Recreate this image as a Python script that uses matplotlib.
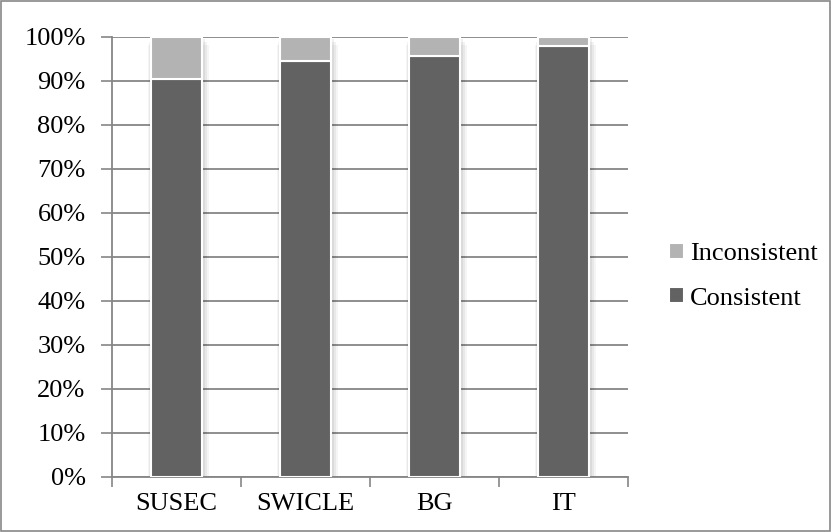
import numpy as np
import matplotlib.pyplot as plt
from matplotlib.patches import Rectangle

categories = ['SUSEC', 'SWICLE', 'BG', 'IT']
consistent = [90.3, 94.5, 95.5, 98.0]
inconsistent = [100 - v for v in consistent]

plt.rcParams['font.family'] = ['Liberation Serif', 'DejaVu Serif']

fig = plt.figure(figsize=(8.32, 5.32), dpi=100)
ax = fig.add_axes([0.1346, 0.1043, 0.6202, 0.8267])

x = np.arange(len(categories))
w = 0.40
dark = '#626262'
light = '#b3b3b3'
grid = '#868686'

# soft shadow behind bars
for xi in x:
    for k, a in enumerate([0.06, 0.05, 0.04]):
        d = 0.012 * (k + 1)
        ax.bar(xi + d * 0.5, 100, width=w + d * 2, bottom=-0.6 * (k + 1),
               color='black', alpha=a, zorder=2, linewidth=0)

ax.bar(x, consistent, width=w, color=dark, edgecolor='white', linewidth=1.5,
       label='Consistent', zorder=3)
ax.bar(x, inconsistent, width=w, bottom=consistent, color=light,
       edgecolor='white', linewidth=1.5, label='Inconsistent', zorder=3)

ax.set_xlim(-0.5, len(categories) - 0.5)
ax.set_ylim(0, 100)
ax.set_yticks(np.arange(0, 101, 10))
ax.set_yticklabels([f'{v}%' for v in range(0, 101, 10)], fontsize=19)
ax.set_xticks(x)
ax.set_xticklabels(categories, fontsize=19)
ax.tick_params(axis='x', length=0, pad=12)
ax.set_xticks(np.arange(-0.5, len(categories)), minor=True)
ax.tick_params(axis='x', which='minor', length=7, color=grid, width=1.2)
ax.tick_params(axis='y', length=8, color=grid, width=1.2, pad=11)

ax.yaxis.grid(True, color=grid, linewidth=1.3, zorder=1)
ax.set_axisbelow(True)
for s in ['top', 'right']:
    ax.spines[s].set_visible(False)
for s in ['left', 'bottom']:
    ax.spines[s].set_color(grid)
    ax.spines[s].set_linewidth(1.3)

h, l = ax.get_legend_handles_labels()
fig.legend(h[::-1], l[::-1], loc='center left', bbox_to_anchor=(0.776, 0.481),
           frameon=False, fontsize=19, handlelength=0.55, handleheight=0.55,
           handletextpad=0.22, labelspacing=0.85)

fig.patches.append(Rectangle((0.001, 0.001), 0.997, 0.997, transform=fig.transFigure,
                             fill=False, edgecolor='#888888', linewidth=1.2))

fig.savefig('out.png', dpi=100)
